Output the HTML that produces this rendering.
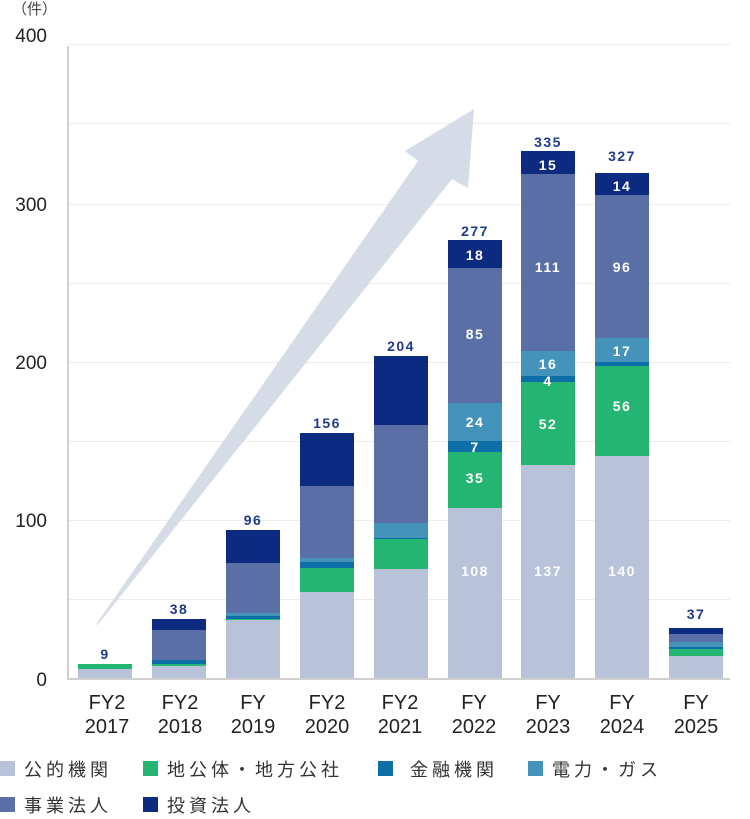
<!DOCTYPE html>
<html><head><meta charset="utf-8"><style>
html,body{margin:0;padding:0;background:#fff;}
svg{display:block;font-family:"Liberation Sans","Noto Sans CJK JP",sans-serif;}
</style></head><body>
<svg width="750" height="819" viewBox="0 0 750 819" xmlns="http://www.w3.org/2000/svg">
<g stroke="#ececec" stroke-width="1">
<line x1="68" y1="44.5" x2="730" y2="44.5"/>
<line x1="68" y1="123.5" x2="730" y2="123.5"/>
<line x1="68" y1="204.5" x2="730" y2="204.5"/>
<line x1="68" y1="283.5" x2="730" y2="283.5"/>
<line x1="68" y1="362.5" x2="730" y2="362.5"/>
<line x1="68" y1="441.5" x2="730" y2="441.5"/>
<line x1="68" y1="520.5" x2="730" y2="520.5"/>
<line x1="68" y1="599.5" x2="730" y2="599.5"/>
</g>
<polygon points="95,626 418,161 405,151 474,109 468,188 452,179 100,622" fill="#d5dbe7"/>
<g font-size="19" fill="#222" text-anchor="end">
<text x="47" y="42">400</text><text x="47" y="211">300</text><text x="47" y="369">200</text><text x="47" y="527">100</text><text x="47" y="686">0</text>
</g>
<text x="12" y="14" font-size="15" fill="#444">（件）</text>
<g>
<rect x="78" y="669" width="54" height="10" fill="#b8c3da"/><rect x="78" y="664" width="54" height="5" fill="#25b573"/>
<rect x="152" y="666" width="54" height="13" fill="#b8c3da"/><rect x="152" y="664" width="54" height="2" fill="#25b573"/><rect x="152" y="660" width="54" height="4" fill="#0e6ea8"/><rect x="152" y="630" width="54" height="30" fill="#5a6fa6"/><rect x="152" y="619" width="54" height="11" fill="#0b2a80"/>
<rect x="226" y="620" width="54" height="59" fill="#b8c3da"/><rect x="226" y="619" width="54" height="1" fill="#25b573"/><rect x="226" y="616" width="54" height="3" fill="#0e6ea8"/><rect x="226" y="613" width="54" height="3" fill="#4393bb"/><rect x="226" y="563" width="54" height="50" fill="#5a6fa6"/><rect x="226" y="530" width="54" height="33" fill="#0b2a80"/>
<rect x="300" y="592" width="54" height="87" fill="#b8c3da"/><rect x="300" y="568" width="54" height="24" fill="#25b573"/><rect x="300" y="562" width="54" height="6" fill="#0e6ea8"/><rect x="300" y="558" width="54" height="4" fill="#4393bb"/><rect x="300" y="486" width="54" height="72" fill="#5a6fa6"/><rect x="300" y="433" width="54" height="53" fill="#0b2a80"/>
<rect x="374" y="569" width="54" height="110" fill="#b8c3da"/><rect x="374" y="539" width="54" height="30" fill="#25b573"/><rect x="374" y="538" width="54" height="1" fill="#0e6ea8"/><rect x="374" y="523" width="54" height="15" fill="#4393bb"/><rect x="374" y="425" width="54" height="98" fill="#5a6fa6"/><rect x="374" y="356" width="54" height="69" fill="#0b2a80"/>
<rect x="448" y="508" width="54" height="171" fill="#b8c3da"/><rect x="448" y="452" width="54" height="56" fill="#25b573"/><rect x="448" y="441" width="54" height="11" fill="#0e6ea8"/><rect x="448" y="403" width="54" height="38" fill="#4393bb"/><rect x="448" y="268" width="54" height="135" fill="#5a6fa6"/><rect x="448" y="240" width="54" height="28" fill="#0b2a80"/>
<rect x="521" y="465" width="54" height="214" fill="#b8c3da"/><rect x="521" y="382" width="54" height="83" fill="#25b573"/><rect x="521" y="376" width="54" height="6" fill="#0e6ea8"/><rect x="521" y="351" width="54" height="25" fill="#4393bb"/><rect x="521" y="174" width="54" height="177" fill="#5a6fa6"/><rect x="521" y="151" width="54" height="23" fill="#0b2a80"/>
<rect x="595" y="456" width="54" height="223" fill="#b8c3da"/><rect x="595" y="366" width="54" height="90" fill="#25b573"/><rect x="595" y="362" width="54" height="4" fill="#0e6ea8"/><rect x="595" y="338" width="54" height="24" fill="#4393bb"/><rect x="595" y="195" width="54" height="143" fill="#5a6fa6"/><rect x="595" y="173" width="54" height="22" fill="#0b2a80"/>
<rect x="669" y="656" width="54" height="23" fill="#b8c3da"/><rect x="669" y="649" width="54" height="7" fill="#25b573"/><rect x="669" y="647" width="54" height="2" fill="#0e6ea8"/><rect x="669" y="642" width="54" height="5" fill="#4393bb"/><rect x="669" y="634" width="54" height="8" fill="#5a6fa6"/><rect x="669" y="628" width="54" height="6" fill="#0b2a80"/>
</g>
<g font-size="14" font-weight="bold" fill="#1f3a8a" text-anchor="middle" letter-spacing="1.5">
<text x="105" y="659">9</text><text x="179" y="614">38</text><text x="253" y="525">96</text><text x="327" y="428">156</text><text x="401" y="351">204</text><text x="475" y="236">277</text><text x="548" y="147">335</text><text x="622" y="161">327</text><text x="696" y="619">37</text>
</g>
<g font-size="14" font-weight="bold" fill="#fff" text-anchor="middle" letter-spacing="1.5">
<text x="475" y="260">18</text><text x="475" y="339">85</text><text x="475" y="427">24</text><text x="475" y="452">7</text><text x="475" y="483">35</text><text x="475" y="576">108</text>
<text x="548" y="170">15</text><text x="548" y="272">111</text><text x="548" y="369">16</text><text x="548" y="386">4</text><text x="548" y="429">52</text><text x="548" y="576">137</text>
<text x="622" y="191">14</text><text x="622" y="272">96</text><text x="622" y="356">17</text><text x="622" y="411">56</text><text x="622" y="576">140</text>
</g>
<line x1="68" y1="46" x2="68" y2="679" stroke="#d0d0d0" stroke-width="2"/>
<line x1="67" y1="679" x2="730" y2="679" stroke="#d0d0d0" stroke-width="2"/>
<g font-size="20" fill="#222" text-anchor="middle">
<text x="107" y="709">FY2</text><text x="107" y="733">2017</text>
<text x="180" y="709">FY2</text><text x="180" y="733">2018</text>
<text x="253" y="709">FY</text><text x="253" y="733">2019</text>
<text x="327" y="709">FY2</text><text x="327" y="733">2020</text>
<text x="400" y="709">FY2</text><text x="400" y="733">2021</text>
<text x="474" y="709">FY</text><text x="474" y="733">2022</text>
<text x="548" y="709">FY</text><text x="548" y="733">2023</text>
<text x="622" y="709">FY</text><text x="622" y="733">2024</text>
<text x="696" y="709">FY</text><text x="696" y="733">2025</text>
</g>
<g font-size="18" fill="#333" letter-spacing="4">
<rect x="0" y="761" width="15" height="15" fill="#b8c3da"/><text x="24" y="776">公的機関</text>
<rect x="143" y="761" width="15" height="15" fill="#25b573"/><text x="167" y="776">地公体・地方公社</text>
<rect x="378" y="761" width="15" height="15" fill="#0e6ea8"/><text x="410" y="776">金融機関</text>
<rect x="528" y="761" width="15" height="15" fill="#4393bb"/><text x="552" y="776">電力・ガス</text>
<rect x="0" y="797" width="15" height="15" fill="#5a6fa6"/><text x="24" y="812">事業法人</text>
<rect x="143" y="797" width="15" height="15" fill="#0b2a80"/><text x="167" y="812">投資法人</text>
</g>
</svg>
</body></html>
